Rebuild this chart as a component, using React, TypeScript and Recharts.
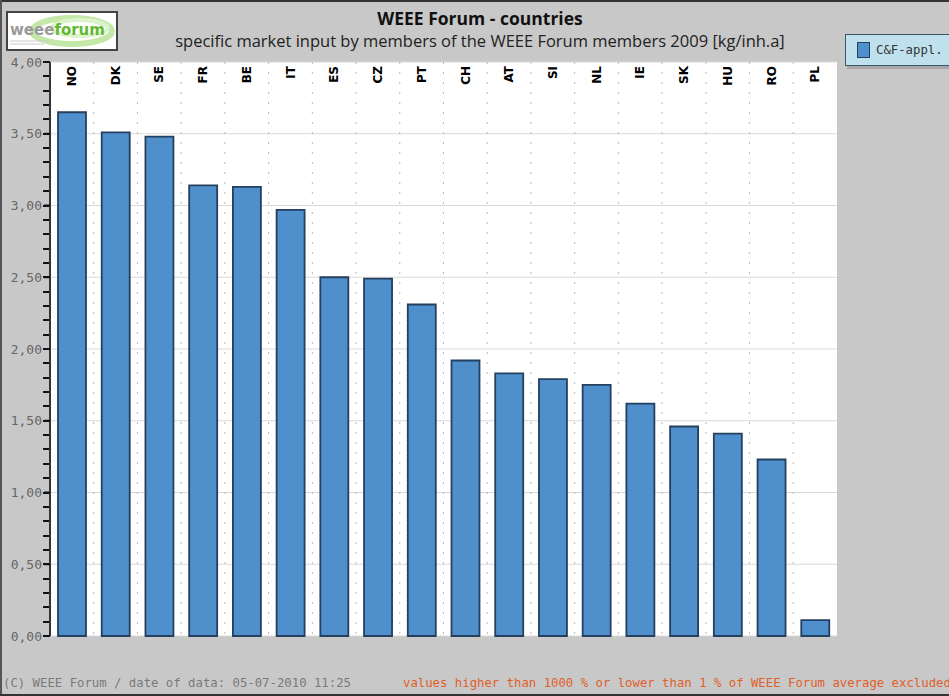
import React from "react";
import {
  BarChart,
  Bar,
  XAxis,
  YAxis,
  CartesianGrid,
  LabelList,
  ReferenceLine,
} from "recharts";

const countries = [
  "NO", "DK", "SE", "FR", "BE", "IT", "ES", "CZ", "PT",
  "CH", "AT", "SI", "NL", "IE", "SK", "HU", "RO", "PL",
];
const marketInput = [
  3.65, 3.51, 3.48, 3.14, 3.13, 2.97, 2.5, 2.49, 2.31,
  1.92, 1.83, 1.79, 1.75, 1.62, 1.46, 1.41, 1.23, 0.11,
];
const majorTicks = [0, 0.5, 1, 1.5, 2, 2.5, 3, 3.5, 4];
const minorTicks = Array.from({ length: 41 }, (_, i) => i / 10);

const seriesName = "C&F-appl.";
const BAR_FILL = "#4f8fcc";
const BAR_STROKE = "#24405e";
const MONO = "'DejaVu Sans Mono', monospace";

const data = countries.map((c, i) => ({ country: c, value: marketInput[i] }));

const fmt = (v: number) => v.toFixed(2).replace(".", ",");

// short outward tick mark at the left edge of the plot
function TickMark(props: any) {
  const { x1, y1 } = props;
  const y = Math.round(y1);
  return (
    <rect x={x1 - 7} y={y - 1} width={7} height={2} fill="#111" shapeRendering="crispEdges" />
  );
}

function CountryLabel(props: any) {
  const { x, width, value } = props;
  const cx = x + width / 2;
  return (
    <text
      x={cx}
      y={66}
      transform={`rotate(-90 ${cx} 66)`}
      textAnchor="end"
      dominantBaseline="central"
      fontFamily="'DejaVu Sans', sans-serif"
      fontWeight="bold"
      fontSize={12}
      fill="#000"
    >
      {value}
    </text>
  );
}

const dividers = ({ offset }: any) =>
  countries.slice(1).map((_, i) => offset.left + ((i + 1) * offset.width) / countries.length);

export default function App() {
  return (
    <div
      style={{
        position: "absolute",
        left: 0,
        top: 0,
        width: 949,
        height: 696,
        background: "#c8c8c8",
        overflow: "hidden",
      }}
    >
      {/* frame */}
      <div style={{ position: "absolute", left: 0, top: 0, width: 949, height: 2, background: "#333" }} />
      <div style={{ position: "absolute", left: 0, top: 0, width: 2, height: 696, background: "#555" }} />
      <div style={{ position: "absolute", left: 0, top: 694, width: 949, height: 2, background: "#333" }} />

      {/* logo */}
      <div
        style={{
          position: "absolute",
          left: 6,
          top: 11,
          width: 108,
          height: 36,
          background: "#fff",
          border: "2px solid #444",
          overflow: "hidden",
        }}
      >
        <svg width={108} height={36} style={{ position: "absolute", left: 0, top: 0 }}>
          <ellipse cx={64} cy={18} rx={40} ry={13} fill="none" stroke="#c4e8a8" strokeWidth={6} />
          <ellipse cx={72} cy={15} rx={28} ry={8} fill="none" stroke="#dcf2cb" strokeWidth={4} />
          <text x={2} y={22} fontFamily="'DejaVu Sans', sans-serif" fontSize={15} fontWeight="bold">
            <tspan fill="#9a9a9a">weee</tspan>
            <tspan fill="#62b833">forum</tspan>
          </text>
          <line x1={2} y1={28} x2={42} y2={28} stroke="#ccc" strokeWidth={1} />
          <line x1={2} y1={31} x2={36} y2={31} stroke="#ccc" strokeWidth={1} />
        </svg>
      </div>

      {/* titles */}
      <div
        style={{
          position: "absolute",
          left: 0,
          width: 960,
          top: 6,
          textAlign: "center",
          fontFamily: "'Open Sans', sans-serif",
          fontWeight: "bold",
          fontSize: 17.5,
          color: "#111",
        }}
      >
        WEEE Forum - countries
      </div>
      <div
        style={{
          position: "absolute",
          left: 0,
          width: 960,
          top: 29,
          textAlign: "center",
          fontFamily: "'Open Sans', sans-serif",
          fontSize: 16.5,
          color: "#222",
        }}
      >
        specific market input by members of the WEEE Forum members 2009 [kg/inh.a]
      </div>

      {/* legend */}
      <div
        style={{
          position: "absolute",
          left: 845,
          top: 34,
          width: 120,
          height: 30,
          background: "#bfe1ee",
          border: "1px solid #3e5566",
          boxShadow: "2px 3px 0 #a8a8a8",
          display: "flex",
          alignItems: "center",
          fontFamily: MONO,
          fontSize: 12.3,
          color: "#333",
        }}
      >
        <span
          style={{
            width: 11,
            height: 14,
            background: BAR_FILL,
            border: `1px solid ${BAR_STROKE}`,
            marginLeft: 11,
            marginRight: 6,
          }}
        />
        {seriesName}
      </div>

      <div style={{ position: "absolute", left: 0, top: 0 }}>
        <BarChart
          width={949}
          height={696}
          data={data}
          margin={{ top: 62, right: 112, left: 0, bottom: 60 }}
          barSize={28}
        >
          <CartesianGrid
            fill="#ffffff"
            stroke="#d9d9d9"
            horizontalValues={majorTicks}
            vertical={false}
          />
          <CartesianGrid
            stroke="#b8b8b8"
            strokeDasharray="2 8"
            horizontal={false}
            verticalCoordinatesGenerator={dividers}
          />
          <XAxis
            dataKey="country"
            height={0}
            tick={false}
            tickLine={false}
            axisLine={{ stroke: "#000", strokeWidth: 3 }}
          />
          <XAxis
            xAxisId="top"
            dataKey="country"
            orientation="top"
            height={0}
            tick={false}
            tickLine={false}
            axisLine={{ stroke: "#555", strokeWidth: 1 }}
          />
          <YAxis
            domain={[0, 4]}
            ticks={majorTicks}
            interval={0}
            width={50}
            tickSize={6}
            tickMargin={2}
            tickFormatter={fmt}
            tick={{ fill: "#666", fontFamily: MONO, fontSize: 13 }}
            tickLine={{ stroke: "#111", strokeWidth: 2 }}
            axisLine={{ stroke: "#333", strokeWidth: 2 }}
          />
          <YAxis
            yAxisId="right"
            orientation="right"
            domain={[0, 4]}
            width={0}
            tick={false}
            tickLine={false}
            axisLine={{ stroke: "#999", strokeWidth: 3 }}
          />
          {minorTicks.map((v) => (
            <ReferenceLine key={v} y={v} ifOverflow="visible" shape={<TickMark />} />
          ))}
          <Bar
            dataKey="value"
            name={seriesName}
            fill={BAR_FILL}
            stroke={BAR_STROKE}
            strokeWidth={1.8}
            isAnimationActive={false}
          >
            <LabelList dataKey="country" content={<CountryLabel />} />
          </Bar>
        </BarChart>
      </div>

      {/* footer */}
      <div
        style={{
          position: "absolute",
          left: 3,
          top: 676,
          fontFamily: MONO,
          fontSize: 12.3,
          color: "#7a7a7a",
          whiteSpace: "nowrap",
        }}
      >
        (C) WEEE Forum / date of data: 05-07-2010 11:25
      </div>
      <div
        style={{
          position: "absolute",
          left: 403,
          top: 676,
          fontFamily: MONO,
          fontSize: 12.3,
          color: "#e0602a",
          whiteSpace: "nowrap",
        }}
      >
        values higher than 1000 % or lower than 1 % of WEEE Forum average excluded
      </div>
    </div>
  );
}
